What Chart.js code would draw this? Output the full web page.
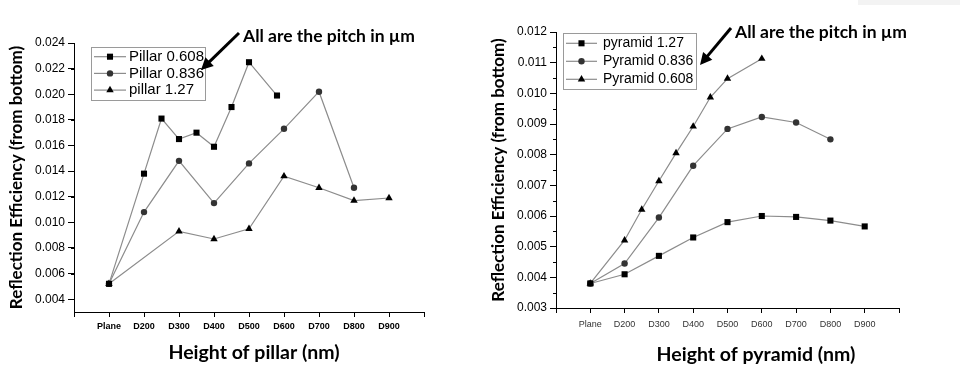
<!DOCTYPE html>
<html>
<head>
<meta charset="utf-8">
<script src="https://cdn.jsdelivr.net/npm/chart.js@4/dist/chart.umd.min.js"></script>
<style>
  html, body { margin: 0; padding: 0; background: #fff; }
  #wrap { position: relative; width: 960px; height: 370px; overflow: hidden; }
  .panel { position: absolute; top: 0; width: 480px; height: 370px; }
  #left { left: 0; }
  #right { left: 480px; }
  #smudge { position: absolute; left: 858px; top: 0; width: 102px; height: 5px; background: #f3f3f3; }
</style>
</head>
<body>
<div id="wrap">
  <div class="panel" id="left"><canvas id="c1" width="480" height="370"></canvas></div>
  <div class="panel" id="right"><canvas id="c2" width="480" height="370"></canvas></div>
  <div id="smudge"></div>
</div>
<script>
// x positions: Plane = 1, D200 = 2 ... D900 = 9 (half steps = in-between heights)
const tickNames = ["", "Plane", "D200", "D300", "D400", "D500", "D600", "D700", "D800", "D900", ""];

// pillar panel
const pillar608X = [1, 2, 2.5, 3, 3.5, 4, 4.5, 5, 5.8];
const pillar608Y = [0.0052, 0.0138, 0.0181, 0.0165, 0.0170, 0.0159, 0.0190, 0.0225, 0.0199];
const pillar836X = [1, 2, 3, 4, 5, 6, 7, 8];
const pillar836Y = [0.0052, 0.0108, 0.0148, 0.0115, 0.0146, 0.0173, 0.0202, 0.0127];
const pillar127X = [1, 3, 4, 5, 6, 7, 8, 9];
const pillar127Y = [0.0052, 0.0093, 0.0087, 0.0095, 0.0136, 0.0127, 0.0117, 0.0119];

// pyramid panel
const pyramid127X = [1, 2, 3, 4, 5, 6, 7, 8, 9];
const pyramid127Y = [0.0038, 0.0041, 0.0047, 0.0053, 0.0058, 0.0060, 0.00597, 0.00585, 0.00566];
const pyramid836X = [1, 2, 3, 4, 5, 6, 7, 8];
const pyramid836Y = [0.0038, 0.00445, 0.00595, 0.00764, 0.00884, 0.00923, 0.00905, 0.0085];
const pyramid608X = [1, 2, 2.5, 3, 3.5, 4, 4.5, 5, 6];
const pyramid608Y = [0.0038, 0.00521, 0.00621, 0.00714, 0.00805, 0.00892, 0.00987, 0.01048, 0.01113];

const note = "All are the pitch in \u00b5m";
const yTitle = "Reflection Efficiency (from bottom)";

Chart.defaults.font.family = "'Liberation Sans', Arial, sans-serif";
Chart.defaults.color = "#000";

const pts = (xs, ys) => xs.map((x, i) => ({ x, y: ys[i] }));

function series(label, xs, ys, style, r, fill) {
  return {
    label, data: pts(xs, ys), showLine: true,
    borderColor: "#8c8c8c", borderWidth: 1.2,
    pointStyle: style, pointRadius: r, pointHoverRadius: r,
    pointBackgroundColor: fill, pointBorderColor: fill, pointBorderWidth: 0,
  };
}

function marker(ctx, style, x, y, r, fill) {
  ctx.fillStyle = fill;
  ctx.beginPath();
  if (style === "rect") {
    const s = r * Math.SQRT1_2;
    ctx.rect(x - s, y - s, 2 * s, 2 * s);
  } else if (style === "triangle") {
    ctx.moveTo(x, y - r);
    ctx.lineTo(x + r * 0.866, y + r / 2);
    ctx.lineTo(x - r * 0.866, y + r / 2);
    ctx.closePath();
  } else {
    ctx.arc(x, y, r, 0, Math.PI * 2);
  }
  ctx.fill();
}

// boxed legend inside the plot, like the Origin export
const boxLegend = {
  id: "boxLegend",
  afterDraw(chart, args, o) {
    const ctx = chart.ctx;
    ctx.save();
    ctx.strokeStyle = "#9a9a9a";
    ctx.lineWidth = 1;
    ctx.strokeRect(o.x + 0.5, o.y + 0.5, o.w, o.h);
    ctx.font = o.font;
    ctx.textBaseline = "middle";
    chart.data.datasets.forEach((ds, i) => {
      const y = o.y + o.first + i * o.gap;
      ctx.strokeStyle = ds.borderColor;
      ctx.lineWidth = 1.2;
      ctx.beginPath();
      ctx.moveTo(o.x + 3, y);
      ctx.lineTo(o.x + 3 + o.lineLen, y);
      ctx.stroke();
      marker(ctx, ds.pointStyle, o.x + 3 + o.lineLen / 2, y, ds.pointRadius, ds.pointBackgroundColor);
      ctx.fillStyle = "#000";
      ctx.fillText(ds.label, o.x + o.textX, y);
    });
    ctx.restore();
  }
};

// short minor ticks on the y axis
const minorTicks = {
  id: "minorTicks",
  afterDraw(chart, args, o) {
    const s = chart.scales.y, ctx = chart.ctx;
    ctx.save();
    ctx.strokeStyle = "#000";
    ctx.lineWidth = 1;
    for (let k = 0; ; k++) {
      const v = s.min + o.step * (2 * k + 1);
      if (v > s.max + 1e-9) break;
      const y = Math.round(s.getPixelForValue(v)) + 0.5;
      ctx.beginPath();
      ctx.moveTo(s.right - 3, y);
      ctx.lineTo(s.right, y);
      ctx.stroke();
    }
    ctx.restore();
  }
};

// arrow + note, and the x axis title
const notes = {
  id: "notes",
  afterDraw(chart, args, o) {
    const ctx = chart.ctx;
    ctx.save();
    const [x1, y1, x2, y2] = o.arrow;
    const a = Math.atan2(y2 - y1, x2 - x1);
    ctx.strokeStyle = "#000";
    ctx.fillStyle = "#000";
    ctx.lineWidth = 3;
    ctx.beginPath();
    ctx.moveTo(x1, y1);
    ctx.lineTo(x2 - 8 * Math.cos(a), y2 - 8 * Math.sin(a));
    ctx.stroke();
    ctx.beginPath();
    ctx.moveTo(x2, y2);
    ctx.lineTo(x2 - 12 * Math.cos(a) + 6 * Math.sin(a), y2 - 12 * Math.sin(a) - 6 * Math.cos(a));
    ctx.lineTo(x2 - 12 * Math.cos(a) - 6 * Math.sin(a), y2 - 12 * Math.sin(a) + 6 * Math.cos(a));
    ctx.closePath();
    ctx.fill();
    ctx.font = "bold 17.5px Lato, 'Open Sans', sans-serif";
    ctx.textBaseline = "middle";
    ctx.textAlign = "left";
    ctx.fillText(note, o.textX, o.textY);
    ctx.textAlign = "center";
    ctx.font = "bold 19.5px Lato, 'Open Sans', sans-serif";
    ctx.fillText(o.xTitle, o.titleX, o.titleY);
    ctx.restore();
  }
};

function makeChart(id, p) {
  return new Chart(document.getElementById(id), {
    type: "scatter",
    data: { datasets: p.datasets },
    options: {
      responsive: false,
      animation: false,
      events: [],
      layout: { padding: { left: 0, top: p.top, right: p.right, bottom: 0 } },
      plugins: {
        legend: { display: false },
        tooltip: { enabled: false },
        boxLegend: p.legend,
        minorTicks: { step: p.minor },
        notes: p.notes,
      },
      scales: {
        x: {
          type: "linear", min: 0, max: 10,
          afterFit: s => { s.height = p.xHeight; },
          border: { color: "#000", width: 1 },
          grid: { drawOnChartArea: false, tickLength: 5, tickColor: "#000" },
          ticks: {
            stepSize: 1, autoSkip: false, maxRotation: 0, padding: p.xPad,
            color: p.xColor, font: { size: 9, weight: p.xWeight },
            callback: v => tickNames[v] || "",
          },
        },
        y: {
          min: p.yMin, max: p.yMax,
          afterFit: s => { s.width = p.yWidth; },
          border: { color: "#000", width: 1 },
          grid: {
            drawOnChartArea: false, tickLength: 6,
            tickColor: c => p.isMajor(c.tick.value) ? "#000" : "rgba(0,0,0,0)",
          },
          ticks: {
            stepSize: p.minor, autoSkip: false, padding: 3,
            font: { size: 12 },
            callback: v => p.isMajor(v) && p.showLabel(v) ? v.toFixed(3) : "",
          },
          title: {
            display: true, text: yTitle,
            font: { family: "Lato, 'Open Sans', sans-serif", weight: "bold", size: 17 },
            padding: { top: p.yTitlePad, bottom: 0 },
          },
        },
      },
    },
    plugins: [boxLegend, minorTicks, notes],
  });
}

makeChart("c1", {
  datasets: [
    series("Pillar 0.608", pillar608X, pillar608Y, "rect", 4.3, "#000"),
    series("Pillar 0.836", pillar836X, pillar836Y, "circle", 3.2, "#333"),
    series("pillar 1.27", pillar127X, pillar127Y, "triangle", 4.3, "#000"),
  ],
  top: 43, right: 56, yWidth: 74, xHeight: 58, xPad: 4,
  xColor: "#000", xWeight: "bold",
  yMin: 0.003, yMax: 0.024, minor: 0.001,
  isMajor: v => Math.round(v * 1000) % 2 === 0,
  showLabel: v => v > 0.0035,
  yTitlePad: 6,
  legend: { x: 91, y: 47, w: 114, h: 53, first: 9.7, gap: 16.7, lineLen: 32, textX: 38, font: "15px 'Liberation Sans', Arial" },
  notes: { arrow: [239, 33, 201, 70], textX: 243, textY: 36, xTitle: "Height of pillar (nm)", titleX: 254, titleY: 353 },
});

makeChart("c2", {
  datasets: [
    series("pyramid 1.27", pyramid127X, pyramid127Y, "rect", 4.3, "#000"),
    series("Pyramid 0.836", pyramid836X, pyramid836Y, "circle", 3.2, "#333"),
    series("Pyramid 0.608", pyramid608X, pyramid608Y, "triangle", 4.3, "#000"),
  ],
  top: 32, right: 61, yWidth: 76, xHeight: 62, xPad: 6,
  xColor: "#333", xWeight: "normal",
  yMin: 0.003, yMax: 0.012, minor: 0.0005,
  isMajor: v => Math.round(v * 2000) % 2 === 0,
  showLabel: v => true,
  yTitlePad: 8,
  legend: { x: 83, y: 33, w: 133, h: 56, first: 10.3, gap: 18, lineLen: 31, textX: 40, font: "14px 'Liberation Sans', Arial" },
  notes: { arrow: [251, 28, 220, 65], textX: 255, textY: 32, xTitle: "Height of pyramid (nm)", titleX: 276, titleY: 355 },
});
</script>
</body>
</html>
